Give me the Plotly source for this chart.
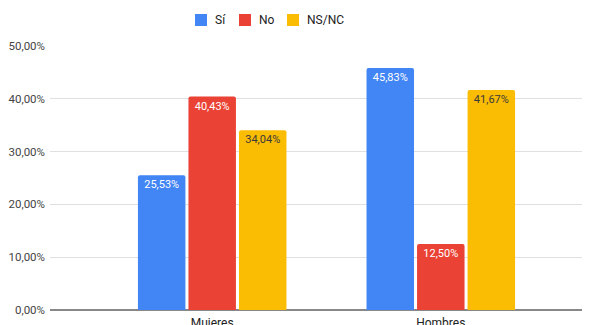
import plotly.graph_objects as go

categories = ["Mujeres", "Hombres"]
series_names = ["Sí", "No", "NS/NC"]
si_values = [0.2553, 0.4583]
no_values = [0.4043, 0.1250]
nsnc_values = [0.3404, 0.4167]

colors = ["#4285F4", "#EA4335", "#FBBC04"]
text_colors = ["#FFFFFF", "#FFFFFF", "#3A3A3A"]

W, H = 590, 325
ML, MR, MT, MB = 42, 0, 38, 23
PW, PH = W - ML - MR, H - MT - MB


def px_x(px):
    return (px - ML) / PW


def px_y(py):
    return (H - MB - py) / PH


fig = go.Figure()
for name, vals, c, tc in zip(series_names, [si_values, no_values, nsnc_values], colors, text_colors):
    fig.add_trace(go.Bar(
        x=categories, y=vals, name=name,
        marker=dict(color=c, line=dict(width=0), cornerradius=2),
        texttemplate="%{y:.2%}", textposition="inside", insidetextanchor="end",
        textfont=dict(color=tc, size=11, family="Roboto, Arial, sans-serif"),
        constraintext="none", cliponaxis=False, showlegend=False,
    ))

# Legend drawn as swatches + labels (Google Charts style)
legend_square_x = [187, 231, 279]
legend_text_x = [205, 249, 297]
legend_y = 12
shapes = []
annotations = []
for name, c, sx, tx in zip(series_names, colors, legend_square_x, legend_text_x):
    shapes.append(dict(type="rect", xref="paper", yref="paper",
                       x0=px_x(sx), x1=px_x(sx + 12), y0=px_y(legend_y + 6), y1=px_y(legend_y - 6),
                       fillcolor=c, line=dict(width=0)))
    annotations.append(dict(text=name, xref="paper", yref="paper", x=px_x(tx), y=px_y(legend_y),
                            xanchor="left", yanchor="middle", showarrow=False,
                            font=dict(size=12, color="#222222")))

fig.update_layout(
    width=W, height=H,
    margin=dict(l=ML, r=MR, t=MT, b=MB, autoexpand=False),
    paper_bgcolor="white", plot_bgcolor="white",
    barmode="group", bargap=0.337, bargroupgap=0.06,
    separators=",.",
    font=dict(family="Roboto, Arial, sans-serif", size=11, color="#444444"),
    showlegend=False,
    shapes=shapes, annotations=annotations,
    xaxis=dict(range=[-0.7095, 1.6877], showgrid=False, showline=False, ticks="",
               automargin=False, ticklabelstandoff=4, tickfont=dict(size=12, color="#222222")),
    yaxis=dict(range=[0, 0.5], dtick=0.1, tickformat=".2%", showgrid=True,
               gridcolor="#E0E0E0", gridwidth=1, zeroline=True, zerolinecolor="#888888",
               zerolinewidth=1.5, showline=False, ticks="", ticklabelstandoff=4,
               automargin=False, tickfont=dict(size=11.5, color="#444444")),
)

fig.write_html("out.html")
